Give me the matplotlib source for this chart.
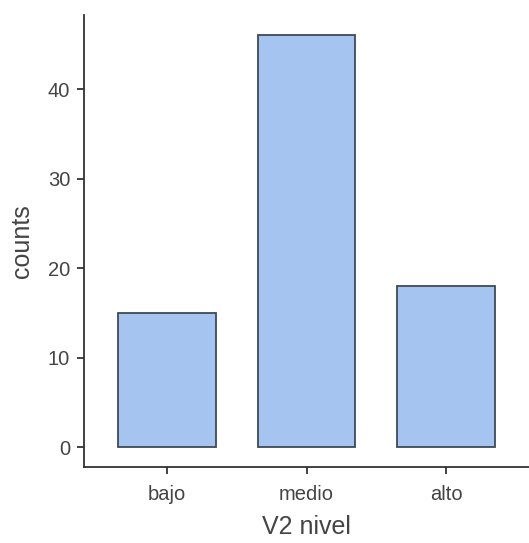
import matplotlib
matplotlib.use("Agg")
import matplotlib.pyplot as plt

categories = ["bajo", "medio", "alto"]
counts = [15, 46, 18]
yticks = [0, 10, 20, 30, 40]

plt.rcParams['font.family'] = ['Liberation Sans', 'DejaVu Sans']

fig = plt.figure(figsize=(5.29, 5.43), dpi=100)
ax = fig.add_axes([84/529, 76/543, 1 - 84/529, (467 - 15)/543])

x = list(range(len(categories)))
ax.bar(x, counts, width=0.7, color="#A6C4F0", edgecolor="#3f4a55", linewidth=1.3, zorder=3)

ax.set_xlim(-0.595, 2.595)
ax.set_ylim(-2.23, 48.27)
ax.set_xticks(x)
ax.set_xticklabels(categories)
ax.set_yticks(yticks)

for s in ["top", "right"]:
    ax.spines[s].set_visible(False)
for s in ["left", "bottom"]:
    ax.spines[s].set_color("#333333")
    ax.spines[s].set_linewidth(1.3)

ax.tick_params(axis="both", colors="#333333", labelcolor="#444444", labelsize=14.5,
               length=5, width=1.3)
ax.tick_params(axis="y", pad=5)
ax.tick_params(axis="x", pad=8)

ax.set_xlabel("V2 nivel", fontsize=18, color="#444444", labelpad=8)
ax.set_ylabel("counts", fontsize=18, color="#444444", labelpad=10)

fig.savefig("out.png", dpi=100)
